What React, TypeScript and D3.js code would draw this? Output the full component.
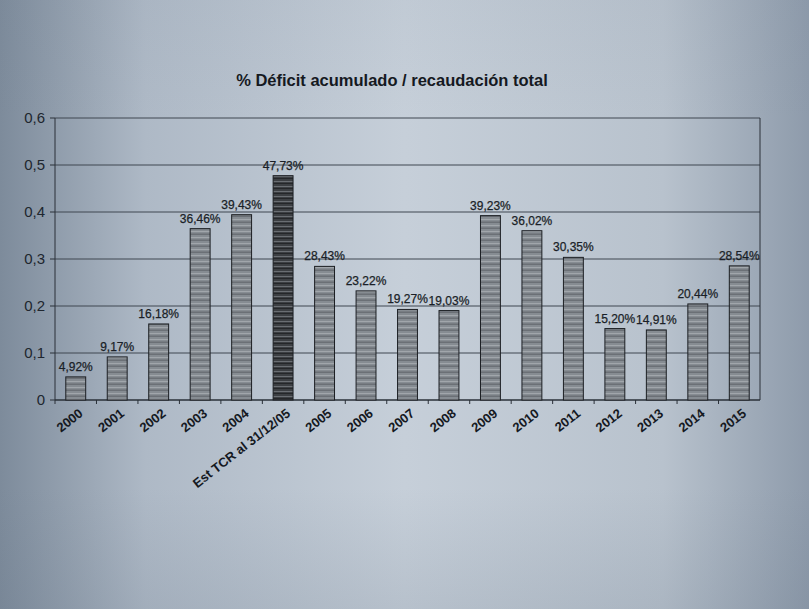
import React from 'react';
import * as d3 from 'd3';

const categories = ['2000', '2001', '2002', '2003', '2004', 'Est TCR al 31/12/05', '2005', '2006', '2007', '2008', '2009', '2010', '2011', '2012', '2013', '2014', '2015'];
const values = [0.0492, 0.0917, 0.1618, 0.3646, 0.3943, 0.4773, 0.2843, 0.2322, 0.1927, 0.1903, 0.3923, 0.3602, 0.3035, 0.152, 0.1491, 0.2044, 0.2854];
const yTicks = [0, 0.1, 0.2, 0.3, 0.4, 0.5, 0.6];
const highlight = 'Est TCR al 31/12/05';
const title = '% Déficit acumulado / recaudación total';

const W = 809, H = 609;
const m = { left: 55, right: 49, top: 118, bottom: 209 };
const font = '"Liberation Sans", Arial, sans-serif';

export default function App() {
  const x = d3.scaleBand().domain(categories).range([m.left, W - m.right]).paddingInner(0.52).paddingOuter(0.26);
  const xb = d3.scaleBand().domain(categories).range([m.left, W - m.right]);
  const y = d3.scaleLinear().domain([0, 0.6]).range([H - m.bottom, m.top]);
  const fmtTick = (v: number) => (v === 0 ? '0' : d3.format('.1f')(v).replace('.', ','));
  const fmtVal = (v: number) => d3.format('.2f')(v * 100).replace('.', ',') + '%';
  const y0 = y(0);

  return (
    <svg width={W} height={H} style={{ position: 'fixed', left: 0, top: 0 }} fontFamily={font}>
      <defs>
        <linearGradient id="bgH" x1="0" x2="1" y1="0" y2="0">
          <stop offset="0" stopColor="#7d8b9b" />
          <stop offset="0.18" stopColor="#aeb9c6" />
          <stop offset="0.5" stopColor="#c6cfd9" />
          <stop offset="0.82" stopColor="#b8c2cd" />
          <stop offset="1" stopColor="#8e9bab" />
        </linearGradient>
        <linearGradient id="bgV" x1="0" x2="0" y1="0" y2="1">
          <stop offset="0" stopColor="#5f6e80" stopOpacity="0.05" />
          <stop offset="0.2" stopColor="#5f6e80" stopOpacity="0" />
          <stop offset="0.8" stopColor="#5f6e80" stopOpacity="0" />
          <stop offset="1" stopColor="#5f6e80" stopOpacity="0.15" />
        </linearGradient>
        <pattern id="stripes" width="8" height="6" patternUnits="userSpaceOnUse">
          <rect width="8" height="6" fill="#868c92" />
          <rect y="0" width="8" height="1" fill="#6b7076" />
          <rect y="3" width="8" height="1" fill="#a1a6ab" />
          <rect y="5" width="8" height="1" fill="#787d83" />
        </pattern>
        <pattern id="stripesDark" width="8" height="5" patternUnits="userSpaceOnUse">
          <rect width="8" height="5" fill="#3c3f43" />
          <rect y="1" width="8" height="1" fill="#6a6e73" />
          <rect y="3" width="8" height="1" fill="#25272a" />
        </pattern>
      </defs>
      <rect width={W} height={H} fill="url(#bgH)" />
      <rect width={W} height={H} fill="url(#bgV)" />

      <text x={392} y={86} textAnchor="middle" fontSize={16.5} fontWeight="bold" fill="#15191f">{title}</text>

      {yTicks.map((t) => (
        <g key={t}>
          {t > 0 && <line x1={m.left} x2={W - m.right} y1={y(t)} y2={y(t)} stroke="#3e4650" strokeWidth={1} />}
          <line x1={m.left - 5} x2={m.left} y1={y(t)} y2={y(t)} stroke="#2a3038" />
          <text x={m.left - 10} y={y(t) + 5} textAnchor="end" fontSize={15} fill="#20262e">{fmtTick(t)}</text>
        </g>
      ))}
      <line x1={m.left} x2={m.left} y1={m.top} y2={y0} stroke="#2a3038" />
      <line x1={W - m.right} x2={W - m.right} y1={m.top} y2={y0} stroke="#2a3038" />
      <line x1={m.left} x2={W - m.right} y1={y0} y2={y0} stroke="#2a3038" strokeWidth={1.5} />
      {categories.map((c) => (
        <line key={'t' + c} x1={xb(c)!} x2={xb(c)!} y1={y0} y2={y0 + 4} stroke="#2a3038" />
      ))}

      {categories.map((c, i) => (
        <g key={c}>
          <rect x={x(c)!} y={y(values[i])} width={x.bandwidth()} height={y0 - y(values[i])}
            fill={c === highlight ? 'url(#stripesDark)' : 'url(#stripes)'} stroke="#1c1f23" strokeWidth={1} />
          <text x={x(c)! + x.bandwidth() / 2} y={y(values[i]) - 6} textAnchor="middle" fontSize={12} fill="#1a1f27" stroke="#1a1f27" strokeWidth={0.25}>{fmtVal(values[i])}</text>
          <text transform={`translate(${x(c)! + x.bandwidth() / 2 + 8},${y0 + 15}) rotate(-38)`} textAnchor="end" fontSize={13} fontWeight="bold" fill="#15191f">{c}</text>
        </g>
      ))}
    </svg>
  );
}
